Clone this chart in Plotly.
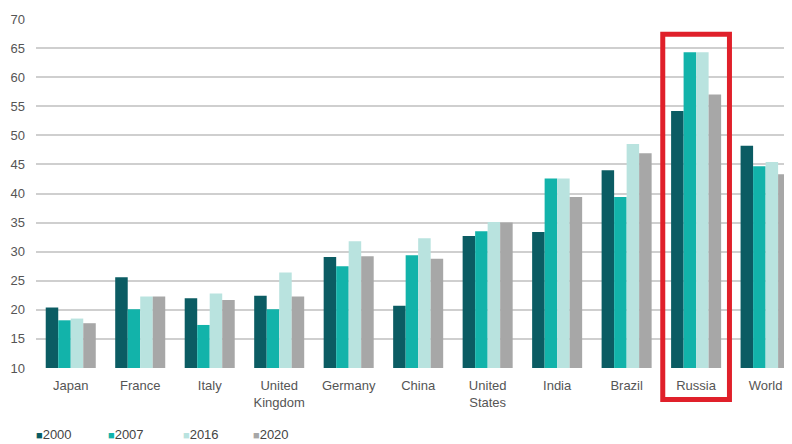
import plotly.graph_objects as go

categories = ["Japan", "France", "Italy", "United<br>Kingdom", "Germany", "China",
              "United<br>States", "India", "Brazil", "Russia", "World"]
years = ["2000", "2007", "2016", "2020"]
v2000 = [20.4, 25.6, 22.0, 22.4, 29.1, 20.7, 32.7, 33.4, 44.0, 54.2, 48.2]
v2007 = [18.2, 20.1, 17.4, 20.1, 27.5, 29.4, 33.5, 42.6, 39.4, 64.3, 44.7]
v2016 = [18.5, 22.3, 22.8, 26.4, 31.8, 32.3, 35.1, 42.6, 48.5, 64.3, 45.4]
v2020 = [17.7, 22.3, 21.7, 22.3, 29.2, 28.8, 35.0, 39.4, 46.9, 57.0, 43.3]
series = [v2000, v2007, v2016, v2020]
colors = ["#0b5c63", "#12b3aa", "#b9e3df", "#a7a7a7"]
highlight = "Russia"

fig = go.Figure()
for name, vals, col in zip(years, series, colors):
    fig.add_trace(go.Bar(x=categories, y=[v - 10 for v in vals], base=10, name=name,
                         marker=dict(color=col, line=dict(width=0)), showlegend=False))

hi = categories.index(highlight)
fig.add_shape(type="rect", xref="x", yref="paper",
              x0=hi - 0.48, x1=hi + 0.48, y0=-0.09, y1=0.956,
              line=dict(color="#e0202a", width=5), fillcolor="rgba(0,0,0,0)", layer="above")

# legend drawn as text entries (square glyph + year)
legend_x = [0.0, 0.095, 0.195, 0.288]
for xp, name, col in zip(legend_x, years, colors):
    fig.add_annotation(xref="paper", yref="paper", x=xp - 0.003, y=-0.19,
                       xanchor="left", yanchor="middle", showarrow=False,
                       text=f"<span style='color:{col};font-size:11px'>■</span>{name}",
                       font=dict(size=13, color="#444444"))

# page body has an 8px default margin, so the figure is 8px smaller than the window
fig.update_layout(
    width=784, height=436,
    margin=dict(l=28, r=0, t=11, b=76),
    paper_bgcolor="white", plot_bgcolor="white",
    barmode="group", bargap=0.28, bargroupgap=0,
    font=dict(family="Liberation Sans Narrow, Arial Narrow, Liberation Sans, sans-serif",
              size=12, color="#555555"),
    showlegend=False,
    xaxis=dict(range=[-0.5, 10.38], showgrid=False, showline=False, ticks="",
               automargin=False, tickfont=dict(size=13, color="#555555"),
               ticklabelstandoff=8),
    yaxis=dict(range=[10, 70], dtick=5, tick0=10, showgrid=True, gridcolor="#cfcfcf",
               gridwidth=1.5, zeroline=False, showline=False, ticks="",
               automargin=False, tickfont=dict(size=13, color="#555555"),
               ticklabelstandoff=10),
)
fig.write_html("out.html")
